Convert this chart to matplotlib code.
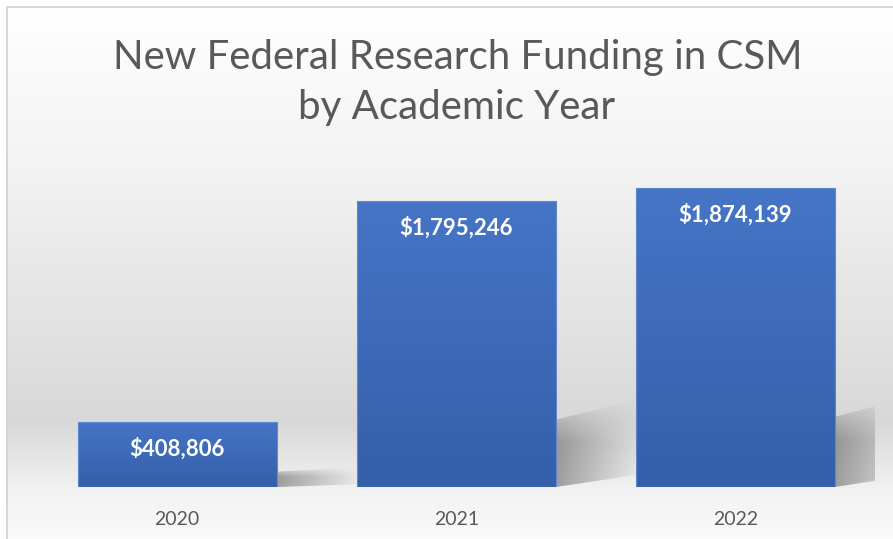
import matplotlib

matplotlib.use("Agg")
import matplotlib.pyplot as plt
import numpy as np
from matplotlib.colors import LinearSegmentedColormap
from matplotlib.patches import Polygon

# data
years = ["2020", "2021", "2022"]
funding = [408806, 1795246, 1874139]
value_labels = ["$408,806", "$1,795,246", "$1,874,139"]

FONT = ["Lato", "DejaVu Sans"]
TEXT_GRAY = "#595959"
BAR_TOP = "#4675c7"
BAR_BOTTOM = "#345fa9"

W, H = 893, 539
fig = plt.figure(figsize=(W / 100, H / 100), dpi=100)

# background panel with soft vertical gradient and thin frame
bg = fig.add_axes([0, 0, 1, 1])
bg.set_xlim(0, W)
bg.set_ylim(H, 0)
bg.axis("off")
stops = [(0.0, "#ffffff"), (0.30, "#f3f3f3"), (0.78, "#d8d8d8"),
         (0.90, "#f0f0f0"), (1.0, "#fbfbfb")]
bg_cmap = LinearSegmentedColormap.from_list("bg", stops)
grad = np.linspace(0, 1, 256).reshape(-1, 1)
bg.imshow(grad, cmap=bg_cmap, extent=(7, W, H, 7), aspect="auto",
          interpolation="bicubic", zorder=0)
bg.plot([7, 7, W], [H, 7, 7], color="#d0d0d0", lw=1.2, zorder=1)

# title
bg.text(458, 58, "New Federal Research Funding in CSM", ha="center",
        va="center", fontsize=29, color=TEXT_GRAY, family=FONT)
bg.text(457, 108, "by Academic Year", ha="center", va="center",
        fontsize=29, color=TEXT_GRAY, family=FONT)

# main axes: zero line at y=487px, top at y=160px
ax = fig.add_axes([37.5 / W, (H - 487) / H, (875 - 37.5) / W, (487 - 160) / H])
ax.patch.set_alpha(0)
x = np.arange(len(years))
bw = 0.713
ymax = 2050000
for s in ax.spines.values():
    s.set_visible(False)
ax.set_yticks([])
ax.set_xticks(x)
ax.set_xticklabels(years, family=FONT, fontsize=14, color=TEXT_GRAY)
ax.tick_params(axis="x", length=0, pad=17)

# perspective shadows behind bars
shadow_rgba = np.zeros((64, 128, 4))
fade_x = np.linspace(1, 0, 128) ** 1.1
fade_y = np.clip(np.linspace(0, 1, 64) * 2.0, 0, 1)  # row 0 = top of extent
shadow_rgba[..., 3] = 0.5 * fade_y[:, None] * fade_x[None, :]
shadow_rgba[..., :3] = 0.3
for xi, v in zip(x, funding):
    hs = 0.235 * v
    x0 = xi + bw / 2
    dx, dy = 0.32, 0.33 * hs
    poly = Polygon([(x0, 0), (x0 + dx, dy * 0.6), (x0 + dx, hs + dy), (x0, hs)],
                   closed=True, facecolor="none", edgecolor="none",
                   transform=ax.transData)
    ax.add_patch(poly)
    im = ax.imshow(shadow_rgba, extent=(x0, x0 + dx, 0, hs + dy),
                   aspect="auto", interpolation="bilinear", zorder=1)
    im.set_clip_path(poly)

# bars with vertical gradient fill
bar_cmap = LinearSegmentedColormap.from_list("bar", [BAR_BOTTOM, BAR_TOP])
bars = ax.bar(x, funding, width=bw, color="none", edgecolor="#5f88d0",
              linewidth=0.8, zorder=3)
for b in bars:
    bx, by = b.get_x(), b.get_y()
    im = ax.imshow(grad, cmap=bar_cmap, origin="lower",
                   extent=(bx, bx + b.get_width(), by, by + b.get_height()),
                   aspect="auto", interpolation="bicubic", zorder=2)
    im.set_clip_path(b)

ax.set_xlim(-0.5, len(years) - 0.5)
ax.set_ylim(0, ymax)

# value labels inside bar tops
for xi, v, lab in zip(x, funding, value_labels):
    ax.annotate(lab, (xi, v), xytext=(0, -27), textcoords="offset pixels",
                ha="center", va="center", color="white", fontsize=16,
                fontweight="bold", family=FONT, zorder=4)

fig.savefig("out.png", dpi=100, facecolor="white")
